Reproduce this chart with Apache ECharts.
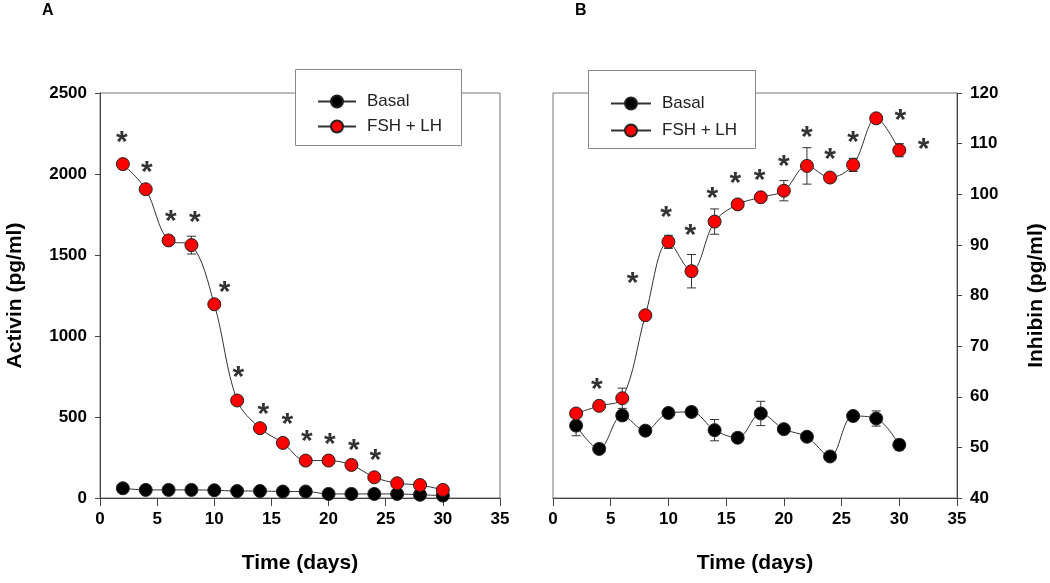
<!DOCTYPE html>
<html>
<head>
<meta charset="utf-8">
<script src="https://cdn.jsdelivr.net/npm/echarts@6.0.0/dist/echarts.min.js"></script>
<style>
html, body { margin: 0; padding: 0; background: #fff; }
#main { width: 1050px; height: 583px; }
</style>
</head>
<body>
<div id="main"></div>
<script>
// sampling days
var days = [2, 4, 6, 8, 10, 12, 14, 16, 18, 20, 22, 24, 26, 28, 30];

// panel A - activin (pg/ml)
var activinBasal = [60, 50, 50, 50, 48, 43, 43, 40, 40, 25, 25, 25, 25, 20, 15];
var activinBasalErr = [8, 6, 6, 6, 6, 5, 5, 5, 5, 5, 5, 5, 5, 5, 5];
var activinFsh = [2061, 1906, 1590, 1561, 1196, 602, 431, 340, 231, 231, 204, 128, 91, 80, 50];
var activinFshErr = [30, 15, 15, 55, 20, 15, 15, 15, 15, 15, 15, 15, 15, 15, 15];
var activinStarX = [1.9, 4.1, 6.2, 8.3, 10.9, 12.1, 14.3, 16.4, 18.1, 20.1, 22.2, 24.1];
var activinStarY = [2236, 2048, 1751, 1741, 1312, 788, 555, 493, 390, 369, 338, 276];

// panel B - inhibin (pg/ml)
var inhibinBasal = [54.3, 49.7, 56.3, 53.3, 56.8, 57.0, 53.4, 51.9, 56.7, 53.6, 52.1, 48.2, 56.2, 55.7, 50.5];
var inhibinBasalErr = [2, 0.5, 1, 0.5, 0.8, 0.8, 2.1, 0.5, 2.4, 0.5, 0.5, 0.5, 0.5, 1.5, 1];
var inhibinFsh = [56.7, 58.2, 59.7, 76.1, 90.6, 84.8, 94.6, 98.0, 99.4, 100.7, 105.6, 103.3, 105.8, 115.0, 108.7];
var inhibinFshErr = [0.8, 0.5, 2, 0.8, 1.3, 3.3, 2.5, 0.7, 0.5, 2, 3.6, 0.5, 1.3, 0.5, 1.3];
var inhibinStarX = [3.8, 6.9, 9.8, 11.9, 13.8, 15.8, 17.9, 20.0, 22.0, 24.0, 26.0, 30.1, 32.1];
var inhibinStarY = [62.7, 83.7, 96.8, 93.1, 100.5, 103.5, 104.1, 106.8, 112.6, 108.2, 111.5, 116.0, 110.2];

var xTicks = { min: 0, max: 35, interval: 5 };
var activinTicks = { min: 0, max: 2500, interval: 500 };
var inhibinTicks = { min: 40, max: 120, interval: 10 };

var seriesNames = ['Basal', 'FSH + LH'];

var FONT = '"Liberation Sans", Arial, sans-serif';

function pairs(xs, ys) {
	var out = [];
	for (var i = 0; i < xs.length; i++) {
		out.push([xs[i], ys[i]]);
	}
	return out;
}

function triples(xs, ys, es) {
	var out = [];
	for (var i = 0; i < xs.length; i++) {
		out.push([xs[i], ys[i], es[i]]);
	}
	return out;
}

// error bar with caps
function errorBarItem(params, api) {
	var x = api.value(0), y = api.value(1), e = api.value(2);
	var hi = api.coord([x, y + e]);
	var lo = api.coord([x, y - e]);
	var w = 4.5;
	var style = { stroke: '#333', lineWidth: 1, fill: null };
	return {
		type : 'group',
		children : [
			{ type : 'line', shape : { x1 : hi[0], y1 : hi[1], x2 : lo[0], y2 : lo[1] }, style : style },
			{ type : 'line', shape : { x1 : hi[0] - w, y1 : hi[1], x2 : hi[0] + w, y2 : hi[1] }, style : style },
			{ type : 'line', shape : { x1 : lo[0] - w, y1 : lo[1], x2 : lo[0] + w, y2 : lo[1] }, style : style }
		]
	};
}

function lineSeries(name, idx, ys, color) {
	return {
		type : 'line',
		name : name,
		xAxisIndex : idx,
		yAxisIndex : idx,
		data : pairs(days, ys),
		smooth : 0.35,
		symbol : 'circle',
		symbolSize : 13,
		itemStyle : { color : color, borderColor : '#222', borderWidth : 1 },
		lineStyle : { color : '#333', width : 1 },
		z : 3,
		silent : true
	};
}

function errSeries(idx, ys, es) {
	return {
		type : 'custom',
		xAxisIndex : idx,
		yAxisIndex : idx,
		data : triples(days, ys, es),
		encode : { x : 0, y : 1 },
		renderItem : errorBarItem,
		z : 2,
		silent : true
	};
}

function starSeries(idx, xs, ys) {
	return {
		type : 'scatter',
		xAxisIndex : idx,
		yAxisIndex : idx,
		data : pairs(xs, ys),
		symbolSize : 1,
		itemStyle : { color : 'transparent' },
		label : {
			show : true,
			position : 'inside',
			formatter : '*',
			fontSize : 30,
			fontWeight : 'bold',
			fontFamily : FONT,
			color : '#000',
			offset : [0, 7]
		},
		z : 4,
		silent : true
	};
}

function plainNumber(v) {
	return String(v);
}

var labelStyle = { margin : 13, fontSize : 17, fontWeight : 'bold', fontFamily : FONT, color : '#000', formatter : plainNumber };
var nameStyle = { fontSize : 21, fontWeight : 'bold', fontFamily : FONT, color : '#000' };

function xAxis(idx) {
	return {
		type : 'value',
		gridIndex : idx,
		min : xTicks.min,
		max : xTicks.max,
		interval : xTicks.interval,
		name : 'Time (days)',
		nameLocation : 'middle',
		nameGap : 55,
		nameTextStyle : nameStyle,
		axisLine : { show : true, onZero : false, lineStyle : { color : '#444', width : 1 } },
		axisTick : { show : true, inside : false, length : 8, lineStyle : { color : '#444' } },
		axisLabel : labelStyle,
		splitLine : { show : false }
	};
}

function yAxis(idx, pos, ticks, name, gap) {
	return {
		type : 'value',
		gridIndex : idx,
		position : pos,
		min : ticks.min,
		max : ticks.max,
		interval : ticks.interval,
		name : name,
		nameLocation : 'middle',
		nameRotate : 90,
		nameGap : gap,
		nameTextStyle : nameStyle,
		axisLine : { show : true, onZero : false, lineStyle : { color : '#444', width : 1 } },
		axisTick : { show : true, inside : false, length : 5, lineStyle : { color : '#444' } },
		axisLabel : labelStyle,
		splitLine : { show : false }
	};
}

var myChart = echarts.init(document.getElementById('main'), null, { renderer : 'canvas' });

var option = {
	backgroundColor : '#fff',
	animation : false,
	grid : [ {
		left : 100, top : 93, width : 400, height : 405,
		show : true, borderColor : '#777', borderWidth : 1,
		outerBoundsMode : 'none'
	}, {
		left : 553, top : 93, width : 404, height : 405,
		show : true, borderColor : '#777', borderWidth : 1,
		outerBoundsMode : 'none'
	} ],
	xAxis : [ xAxis(0), xAxis(1) ],
	yAxis : [
		yAxis(0, 'left', activinTicks, 'Activin (pg/ml)', 74),
		yAxis(1, 'right', inhibinTicks, 'Inhibin (pg/ml)', 69)
	],
	legend : [ {
		data : seriesNames,
		orient : 'vertical',
		left : 312,
		top : 88,
		itemWidth : 38,
		itemHeight : 15,
		itemGap : 8,
		selectedMode : false,
		textStyle : { fontSize : 17, lineHeight : 15, fontFamily : FONT, color : '#222', padding : [0, 0, 0, 6] },
		z : 10
	}, {
		data : seriesNames,
		orient : 'vertical',
		left : 605,
		top : 90,
		itemWidth : 40,
		itemHeight : 15,
		itemGap : 10,
		selectedMode : false,
		textStyle : { fontSize : 17, lineHeight : 15, fontFamily : FONT, color : '#222', padding : [0, 0, 0, 6] },
		z : 10
	} ],
	graphic : [ {
		type : 'rect', left : 295, top : 69, z : 5,
		shape : { width : 166, height : 76 },
		style : { fill : '#fff', stroke : '#888', lineWidth : 1 }
	}, {
		type : 'rect', left : 588, top : 70, z : 5,
		shape : { width : 167, height : 78 },
		style : { fill : '#fff', stroke : '#888', lineWidth : 1 }
	}, {
		type : 'text', left : 42, top : 3, z : 5,
		style : { text : 'A', font : 'bold 16px ' + FONT, fill : '#000' }
	}, {
		type : 'text', left : 575, top : 3, z : 5,
		style : { text : 'B', font : 'bold 16px ' + FONT, fill : '#000' }
	} ],
	series : [
		errSeries(0, activinBasal, activinBasalErr),
		errSeries(0, activinFsh, activinFshErr),
		lineSeries('Basal', 0, activinBasal, '#000'),
		lineSeries('FSH + LH', 0, activinFsh, '#ff0000'),
		starSeries(0, activinStarX, activinStarY),
		errSeries(1, inhibinBasal, inhibinBasalErr),
		errSeries(1, inhibinFsh, inhibinFshErr),
		lineSeries('Basal', 1, inhibinBasal, '#000'),
		lineSeries('FSH + LH', 1, inhibinFsh, '#ff0000'),
		starSeries(1, inhibinStarX, inhibinStarY)
	]
};

myChart.setOption(option);
</script>
</body>
</html>
